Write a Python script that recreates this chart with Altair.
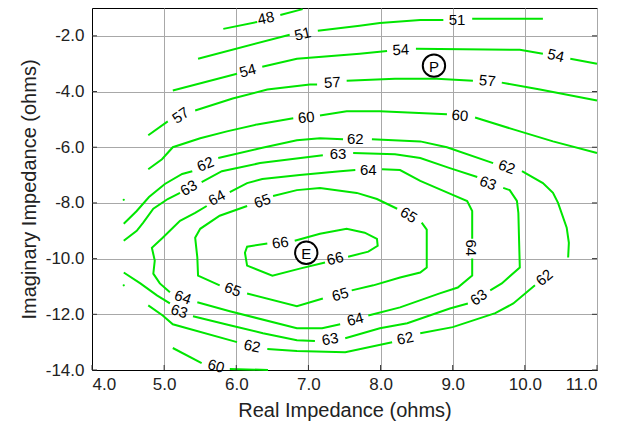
import altair as alt
import pandas as pd

# ---------------- data ----------------
x_ticks = [4.0, 5.0, 6.0, 7.0, 8.0, 9.0, 10.0, 11.0]
y_ticks = [-14.0, -12.0, -10.0, -8.0, -6.0, -4.0, -2.0]

# contour segments (x = real, y = imaginary), broken where labels sit
level_48 = [
    [(5.82, -1.75), (6.29, -1.50)],
    [(6.61, -1.25), (6.92, -1.04)],
]
level_51 = [
    [(5.47, -2.82), (6.74, -1.96)],
    [(7.13, -1.82), (7.71, -1.64), (7.99, -1.54), (8.55, -1.43), (8.87, -1.43)],
    [(9.27, -1.39), (10.25, -1.39)],
]
level_54 = [
    [(5.12, -3.96), (6.01, -3.36)],
    [(6.36, -3.11), (6.84, -2.82), (7.71, -2.64), (8.09, -2.54)],
    [(8.49, -2.46), (9.93, -2.50), (10.25, -2.64)],
    [(10.63, -2.82), (11.0, -3.00)],
]
level_57 = [
    [(4.78, -5.57), (5.05, -5.07)],
    [(5.43, -4.68), (5.95, -4.25), (6.43, -3.93), (7.02, -3.75), (7.12, -3.75)],
    [(7.53, -3.61), (8.20, -3.54), (8.78, -3.54), (9.28, -3.61)],
    [(9.68, -3.68), (10.21, -3.93), (11.0, -4.32)],
]
level_60 = [
    [(4.78, -6.79), (4.97, -6.43), (5.12, -6.00), (5.50, -5.68), (5.87, -5.43),
     (6.29, -5.18), (6.79, -4.96)],
    [(7.16, -4.86), (7.53, -4.71), (7.99, -4.71), (8.92, -4.82)],
    [(9.31, -4.93), (9.84, -5.36), (10.39, -5.79), (11.0, -6.21)],
    [(5.12, -13.21), (5.52, -13.75)],
    [(5.91, -13.96), (6.44, -14.0)],
]
level_62 = [
    [(4.44, -8.75), (4.62, -8.29), (4.79, -7.79), (5.01, -7.32), (5.25, -6.96), (5.39, -6.86)],
    [(5.75, -6.39), (6.33, -6.04), (6.84, -5.75), (7.16, -5.68), (7.48, -5.71)],
    [(7.88, -5.71), (8.55, -5.79), (8.92, -6.00), (9.56, -6.57)],
    [(9.96, -6.86), (10.25, -7.29), (10.39, -7.64), (10.46, -8.00), (10.58, -8.89),
     (10.61, -9.43), (10.60, -9.96)],
    [(10.14, -10.96), (9.84, -11.61), (9.59, -11.96), (9.00, -12.46), (8.55, -12.68)],
    [(8.16, -13.00), (7.51, -13.36), (6.84, -13.32), (6.43, -13.25)],
    [(6.01, -13.00), (5.12, -12.36), (4.98, -12.04), (4.78, -11.68)],
]
level_63 = [
    [(4.44, -10.50), (4.67, -10.89), (4.90, -11.32), (5.08, -11.61)],
    [(5.40, -12.07), (5.91, -12.39), (6.37, -12.68), (6.84, -12.93), (7.09, -12.96)],
    [(7.51, -12.86), (7.99, -12.50), (8.37, -12.32), (8.96, -11.79), (9.21, -11.61)],
    [(9.52, -11.14), (9.68, -10.89), (9.93, -10.32), (9.92, -9.36), (9.91, -8.36),
     (9.89, -7.93), (9.79, -7.54), (9.70, -7.46)],
    [(9.34, -7.07), (8.96, -6.75), (8.55, -6.39), (8.20, -6.25), (7.62, -6.21)],
    [(7.20, -6.29), (6.33, -6.57), (5.80, -6.86), (5.52, -7.25)],
    [(5.22, -7.64), (5.05, -7.86), (4.85, -8.21), (4.71, -8.71), (4.62, -9.00), (4.44, -9.36)],
]
level_64 = [
    [(5.91, -7.61), (6.15, -7.29), (6.36, -7.14), (6.88, -7.00), (7.44, -6.86), (7.65, -6.82)],
    [(8.02, -6.79), (8.27, -6.82), (8.55, -7.21), (9.00, -7.71), (9.20, -7.93),
     (9.27, -8.29), (9.27, -9.29)],
    [(9.27, -10.00), (9.27, -10.61), (9.07, -11.04), (8.82, -11.25), (8.27, -11.75), (7.83, -12.04)],
    [(7.44, -12.36), (7.19, -12.50), (6.84, -12.50), (5.91, -11.89), (5.46, -11.57)],
    [(5.08, -11.21), (4.94, -10.89), (4.85, -10.54), (4.87, -10.07), (4.83, -9.61),
     (4.98, -9.25), (5.22, -8.64), (5.43, -8.36), (5.59, -8.11)],
]
level_65 = [
    [(6.51, -7.75), (6.84, -7.54), (7.16, -7.46), (7.67, -7.64), (7.95, -7.86), (8.23, -8.21)],
    [(8.57, -8.71), (8.64, -8.96), (8.64, -10.32), (8.55, -10.50), (8.27, -10.68),
     (7.90, -10.96), (7.60, -11.14)],
    [(7.20, -11.43), (6.84, -11.71), (6.15, -11.25)],
    [(5.77, -10.96), (5.47, -10.61), (5.46, -9.96), (5.43, -9.25), (5.50, -8.93),
     (5.77, -8.46), (6.15, -8.11)],
]
level_66 = [
    [(6.43, -9.46), (6.15, -9.57), (6.12, -9.79), (6.15, -10.25), (6.50, -10.61),
     (6.88, -10.36), (7.23, -10.14)],
    [(7.55, -9.93), (7.83, -9.75), (7.96, -9.54), (7.95, -9.29), (7.78, -9.07),
     (7.53, -8.93), (7.16, -9.11), (6.81, -9.36)],
]
stray_dots_x = [4.44, 4.44]
stray_dots_y = [-7.89, -10.96]

label_text = ["48", "51", "51", "54", "54", "54", "57", "57", "57", "60", "60", "60",
              "62", "62", "62", "62", "62", "62", "63", "63", "63", "63", "63", "63",
              "64", "64", "64", "64", "64", "65", "65", "65", "65", "66", "66"]
label_x = [6.41, 6.92, 9.06, 6.16, 8.28, 10.43, 5.23, 7.33, 9.48, 6.97, 9.10, 5.72,
           5.57, 7.65, 9.75, 10.27, 8.34, 6.22, 5.21, 7.30, 9.36, 9.49, 7.41, 5.34,
           7.83, 9.25, 7.65, 5.26, 5.73, 8.39, 7.44, 5.95, 6.36, 7.37, 6.61]
label_y = [-1.36, -1.93, -1.43, -3.25, -2.50, -2.71, -4.86, -3.68, -3.61, -4.93, -4.86, -13.86,
           -6.61, -5.71, -6.71, -10.68, -12.86, -13.14, -11.89, -12.89, -11.39, -7.29, -6.25, -7.46,
           -6.82, -9.61, -12.18, -11.39, -7.82, -8.43, -11.29, -11.11, -7.93, -10.00, -9.43]
label_angle = [348, 347, 0, 345, 357, 13, 325, 357, 5, 354, 5, 15,
               338, 0, 20, 320, 348, 12, 18, 350, 325, 20, 0, 330,
               0, 90, 345, 20, 332, 32, 345, 20, 340, 345, 352]

marker_text = ["P", "E"]
marker_x = [8.74, 6.97]
marker_y = [-3.07, -9.79]

# ---------------- build tables ----------------
contours = [("48", level_48), ("51", level_51), ("54", level_54), ("57", level_57),
            ("60", level_60), ("62", level_62), ("63", level_63), ("64", level_64),
            ("65", level_65), ("66", level_66)]
rows = []
for name, segs in contours:
    for si, seg in enumerate(segs):
        for oi, (xv, yv) in enumerate(seg):
            rows.append({"x": xv, "y": yv, "seg": f"{name}_{si}", "o": oi})
lines_df = pd.DataFrame(rows)
labels_df = pd.DataFrame({"x": label_x, "y": label_y, "t": label_text, "a": label_angle})
dots_df = pd.DataFrame({"x": stray_dots_x, "y": stray_dots_y})
markers_df = pd.DataFrame({"x": marker_x, "y": marker_y, "t": marker_text})
xt_df = pd.DataFrame({"x": x_ticks})
yt_df = pd.DataFrame({"y": y_ticks})

W, H = 505, 362
GREEN = "#00e600"
FONT = "Liberation Sans"
HYPHEN_FMT = ("datum.value < 0 ? '-' + format(-datum.value, '.1f') "
              ": format(datum.value, '.1f')")

xs = alt.Scale(domain=[4, 11], nice=False, zero=False)
ys = alt.Scale(domain=[-14, -1], nice=False, zero=False)
xaxis = alt.Axis(values=x_ticks, labelExpr=HYPHEN_FMT, title="Real Impedance (ohms)",
                 grid=True, ticks=False, labelPadding=6, titlePadding=8)
yaxis = alt.Axis(values=y_ticks, labelExpr=HYPHEN_FMT, title="Imaginary Impedance (ohms)",
                 grid=True, ticks=False, labelPadding=8, titlePadding=6)

def X(f="x"):
    return alt.X(f"{f}:Q", scale=xs, axis=xaxis)

def Y(f="y"):
    return alt.Y(f"{f}:Q", scale=ys, axis=yaxis)

lines = alt.Chart(lines_df).mark_line(color=GREEN, strokeWidth=2).encode(
    x=X(), y=Y(), detail="seg:N", order="o:Q")

dots = alt.Chart(dots_df).mark_circle(color=GREEN, size=5, opacity=1).encode(x=X(), y=Y())

labels = alt.Chart(labels_df).mark_text(
    font=FONT, fontSize=15, color="black", align="center", baseline="middle").encode(
    x=X(), y=Y(), text="t:N", angle=alt.Angle("a:Q", scale=None))

circles = alt.Chart(markers_df).mark_circle(
    size=500, fill="white", stroke="black", strokeWidth=2, opacity=1).encode(x=X(), y=Y())

letters = alt.Chart(markers_df).mark_text(
    font=FONT, fontSize=15, color="black", align="center", baseline="middle", dy=1).encode(
    x=X(), y=Y(), text="t:N")

tick_l = alt.Chart(yt_df).mark_rule(color="#333333", strokeWidth=1).encode(
    y=Y(), x=alt.value(0), x2=alt.value(5))
tick_r = alt.Chart(yt_df).mark_rule(color="#333333", strokeWidth=1).encode(
    y=Y(), x=alt.value(W - 5), x2=alt.value(W))
tick_b = alt.Chart(xt_df).mark_rule(color="#333333", strokeWidth=1).encode(
    x=X(), y=alt.value(H - 5), y2=alt.value(H))

chart = alt.layer(lines, dots, labels, circles, letters, tick_l, tick_r, tick_b).properties(
    width=W, height=H,
    autosize=alt.AutoSizeParams(type="none"),
    padding={"left": 84, "top": 0, "right": 20, "bottom": 56},
).configure_view(
    stroke="black", strokeWidth=1
).configure_axis(
    labelFont=FONT, titleFont=FONT, labelFontSize=17, titleFontSize=20,
    titleFontWeight="normal", labelColor="#222222", titleColor="#222222",
    gridColor="#a8a8a8", gridWidth=1, gridOpacity=1,
    domainColor="black", domainWidth=1,
)

chart.save("out.html", embed_options={"renderer": "svg", "actions": False})
